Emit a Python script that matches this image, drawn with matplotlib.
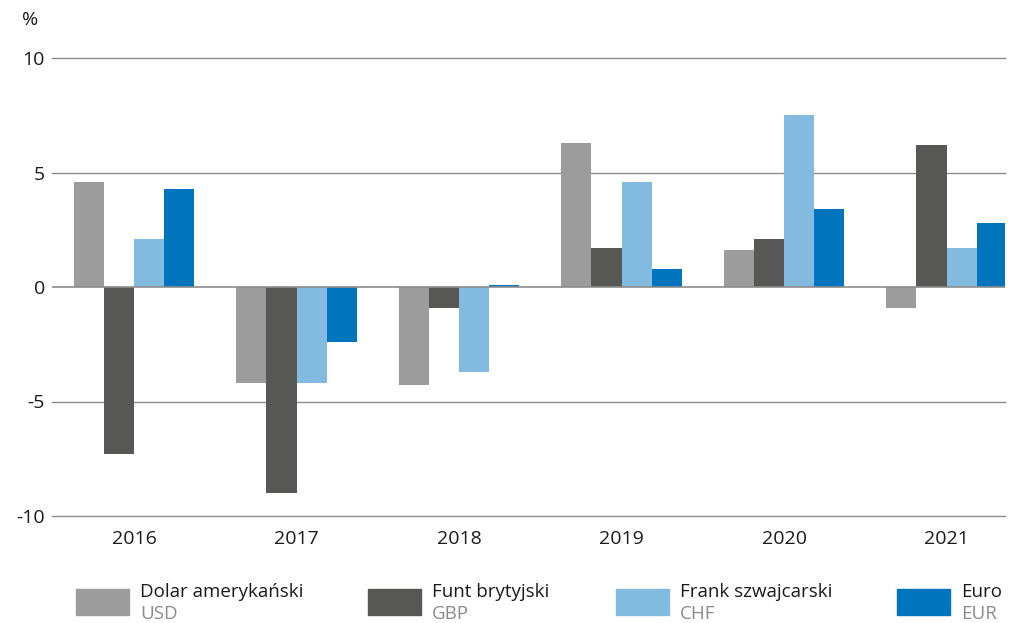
import numpy as np
import matplotlib.pyplot as plt
from matplotlib.patches import Rectangle

plt.rcParams['font.family'] = ['Open Sans', 'DejaVu Sans']

years = ['2016', '2017', '2018', '2019', '2020', '2021']
names = ['Dolar amerykański', 'Funt brytyjski', 'Frank szwajcarski', 'Euro']
codes = ['USD', 'GBP', 'CHF', 'EUR']
usd = [4.6, -4.2, -4.3, 6.3, 1.6, -0.9]
gbp = [-7.3, -9.0, -0.9, 1.7, 2.1, 6.2]
chf = [2.1, -4.2, -3.7, 4.6, 7.5, 1.7]
eur = [4.3, -2.4, 0.1, 0.8, 3.4, 2.8]
colors = ['#9c9c9c', '#575756', '#83badf', '#0075bd']

fig = plt.figure(figsize=(10.16, 6.23), dpi=100)
ax = fig.add_axes([52/1016, 107/623, 953/1016, 458/623])

x = np.arange(len(years))
w = 0.185
for i, vals in enumerate([usd, gbp, chf, eur]):
    ax.bar(x + (i - 1.5) * w, vals, width=w, color=colors[i], zorder=2)

for v in [-10, -5, 5, 10]:
    ax.axhline(v, color='#8c8c8c', lw=1, zorder=1, clip_on=False)
ax.axhline(0, color='#8c8c8c', lw=1.2, zorder=3)

ax.set_xlim(-0.505, 5.36)
ax.set_ylim(-10, 10)
ax.set_yticks([-10, -5, 0, 5, 10])
ax.set_yticklabels(['-10', '-5', '0', '5', '10'])
ax.set_xticks(x)
ax.set_xticklabels(years)
ax.tick_params(length=0, labelsize=14, colors='#1a1a1a')
ax.tick_params(axis='y', pad=5)
ax.tick_params(axis='x', pad=10)
for s in ax.spines.values():
    s.set_visible(False)

fig.text(30/1016, 1 - 20/623, '%', fontsize=14, color='#1a1a1a', ha='center', va='center')

# legend drawn by hand: swatch + name + code
legend_x = [76, 368, 616, 897]
for lx, c, n, code in zip(legend_x, colors, names, codes):
    fig.add_artist(Rectangle((lx/1016, 1 - 615/623), 53/1016, 26/623,
                             transform=fig.transFigure, color=c))
    fig.text((lx + 64)/1016, 1 - 592/623, n, fontsize=13.5, color='#1a1a1a', va='center')
    fig.text((lx + 64)/1016, 1 - 614/623, code, fontsize=13.5, color='#8a8a8a', va='center')

fig.savefig('out.png', dpi=100)
